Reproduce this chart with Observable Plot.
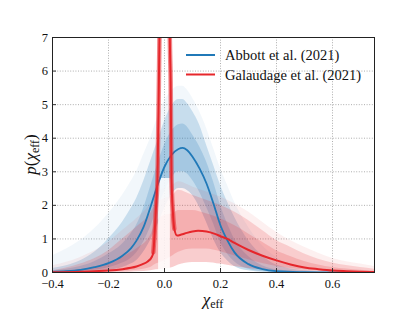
<!DOCTYPE html>
<html><head><meta charset="utf-8">
<script src="https://cdn.jsdelivr.net/npm/d3@7"></script>
<script src="https://cdn.jsdelivr.net/npm/@observablehq/plot@0.6"></script>
<style>
body{margin:0;background:#fff}
#wrap{width:415px;height:312px}
</style>
</head><body><div id="wrap"></div>
<script>
// ---- data ----
const xTicks = [-0.4, -0.2, 0.0, 0.2, 0.4, 0.6];
const yTicks = [0, 1, 2, 3, 4, 5, 6, 7];
const seriesNames = ["Abbott et al. (2021)", "Galaudage et al. (2021)"];
const seriesColors = ["#2079b8", "#e6262b"];

// Abbott et al. (2021): median curve and sample spread
const blueX      = [-0.4,-0.35,-0.3,-0.25,-0.2,-0.15,-0.12,-0.1,-0.075,-0.05,-0.025,0,0.025,0.05,0.065,0.08,0.1,0.125,0.15,0.175,0.2,0.225,0.25,0.3,0.35,0.4,0.5,0.6,0.75];
const blueMean   = [0.02,0.04,0.08,0.16,0.28,0.5,0.72,0.95,1.35,1.95,2.6,3.15,3.5,3.68,3.71,3.65,3.45,3.1,2.65,2.05,1.4,0.95,0.6,0.25,0.1,0.04,0.01,0.0,0.0];
const blueCoreLo = [0,0.01,0.03,0.07,0.14,0.28,0.42,0.58,0.9,1.35,1.9,2.4,2.8,3.0,3.0,2.95,2.75,2.4,1.95,1.45,0.9,0.55,0.32,0.1,0.03,0.01,0,0,0];
const blueCoreHi = [0.05,0.1,0.18,0.32,0.55,0.85,1.15,1.4,1.9,2.55,3.2,3.8,4.2,4.4,4.42,4.35,4.1,3.75,3.3,2.7,2.0,1.45,1.0,0.48,0.2,0.08,0.02,0,0];
const blueLo     = [0,0,0.01,0.03,0.06,0.15,0.25,0.35,0.6,0.95,1.4,1.9,2.3,2.5,2.5,2.45,2.3,1.95,1.5,1.0,0.6,0.35,0.18,0.05,0.01,0,0,0,0];
const blueHi     = [0.12,0.2,0.35,0.6,1.0,1.5,1.9,2.2,2.7,3.3,3.9,4.5,4.95,5.15,5.15,5.05,4.8,4.4,3.8,3.2,2.6,2.1,1.65,0.95,0.5,0.22,0.05,0.01,0];
const blueHiFaint= [0.5,0.7,0.95,1.3,1.75,2.3,2.7,3.0,3.5,4.0,4.6,5.1,5.4,5.55,5.55,5.45,5.2,4.8,4.3,3.7,3.1,2.6,2.1,1.35,0.8,0.45,0.15,0.05,0.01];

// Galaudage et al. (2021): median curve (with narrow spike at zero)
const redX    = [-0.4,-0.3,-0.25,-0.2,-0.15,-0.12,-0.1,-0.08,-0.06,-0.045,-0.04,-0.035,-0.03,-0.025,-0.02,-0.015,0,0.015,0.02,0.022,0.025,0.03,0.035,0.045,0.06,0.08,0.1,0.12,0.15,0.18,0.2,0.225,0.25,0.3,0.35,0.4,0.45,0.5,0.55,0.6,0.65,0.7,0.75];
const redMean = [0.005,0.02,0.04,0.06,0.1,0.14,0.18,0.24,0.33,0.47,0.6,1.2,2.0,2.8,5.7,9,15,9,6.5,5.7,2.8,1.8,1.3,1.1,1.13,1.18,1.22,1.24,1.22,1.15,1.08,1.0,0.88,0.67,0.5,0.36,0.24,0.15,0.1,0.06,0.04,0.025,0.015];
// Galaudage et al. (2021): sample spread
const redBandX   = [-0.4,-0.3,-0.2,-0.15,-0.1,-0.05,-0.03,0,0.03,0.05,0.1,0.15,0.2,0.25,0.3,0.35,0.4,0.45,0.5,0.6,0.7,0.75];
const redCoreLo  = [0,0.005,0.02,0.04,0.07,0.15,0.25,0.35,0.5,0.6,0.7,0.7,0.62,0.5,0.38,0.27,0.18,0.12,0.08,0.03,0.01,0.005];
const redCoreHi  = [0.02,0.08,0.25,0.45,0.7,1.1,1.5,1.7,1.75,1.85,1.85,1.75,1.6,1.4,1.15,0.9,0.65,0.48,0.33,0.15,0.07,0.04];
const redLo      = [0,0,0,0,0.02,0.05,0.08,0.1,0.15,0.22,0.3,0.3,0.25,0.18,0.12,0.08,0.05,0.03,0.02,0.01,0,0];
const redHi      = [0.05,0.25,0.65,1.0,1.35,1.75,2.05,2.2,2.3,2.45,2.3,2.15,2.0,1.8,1.55,1.25,0.95,0.75,0.55,0.28,0.15,0.1];
const redHiFaint = [0.2,0.45,0.9,1.25,1.6,2.05,2.35,2.5,2.6,2.7,2.55,2.4,2.25,2.05,1.8,1.5,1.2,0.95,0.75,0.42,0.25,0.18];
// empty gap inside the spike
const gapX  = [-0.021, 0.021];
const gapLo = [0, 0];
const gapHi = [2.8, 2.8];

// ---- tables ----
const blueRows = blueX.map((x,i)=>({x, mean:blueMean[i], lo:blueLo[i], hi:blueHi[i], hiF:blueHiFaint[i], cLo:blueCoreLo[i], cHi:blueCoreHi[i]}));
const redRows = redX.map((x,i)=>({x, mean:redMean[i]}));
const redBand = redBandX.map((x,i)=>({x, lo:redLo[i], hi:redHi[i], hiF:redHiFaint[i], cLo:redCoreLo[i], cHi:redCoreHi[i]}));
const gapRows = gapX.map((x,i)=>({x, lo:gapLo[i], hi:gapHi[i]}));
const spikeRows = redRows.filter(d => d.x >= -0.04 && d.x <= 0.04);

const [BLUE, RED] = seriesColors;
const FONT = "Liberation Serif";
const fmt = d => d.toFixed(1).replace("-", "\u2212");

const plot = Plot.plot({
  width: 415, height: 312,
  marginLeft: 52, marginRight: 41, marginTop: 37, marginBottom: 40,
  style: {fontFamily: FONT, fontSize: "12.5px", background: "white", color: "#111"},
  x: {domain: [-0.4, 0.75]},
  y: {domain: [0, 7]},
  marks: [
    Plot.gridX(xTicks, {stroke: "#999", strokeOpacity: 1, strokeWidth: 0.8, strokeDasharray: "1,1.6"}),
    Plot.gridY(yTicks, {stroke: "#999", strokeOpacity: 1, strokeWidth: 0.8, strokeDasharray: "1,1.6"}),
    Plot.areaY(blueRows, {x: "x", y1: "lo", y2: "hiF", fill: BLUE, fillOpacity: 0.06, curve: "monotone-x", clip: true}),
    Plot.areaY(blueRows, {x: "x", y1: "lo", y2: "hi", fill: BLUE, fillOpacity: 0.2, curve: "monotone-x", clip: true}),
    Plot.areaY(blueRows, {x: "x", y1: "cLo", y2: "cHi", fill: BLUE, fillOpacity: 0.2, curve: "monotone-x", clip: true}),
    Plot.areaY(redBand, {x: "x", y1: "lo", y2: "hiF", fill: RED, fillOpacity: 0.07, curve: "monotone-x", clip: true}),
    Plot.areaY(redBand, {x: "x", y1: "lo", y2: "hi", fill: RED, fillOpacity: 0.17, curve: "monotone-x", clip: true}),
    Plot.areaY(redBand, {x: "x", y1: "cLo", y2: "cHi", fill: RED, fillOpacity: 0.18, curve: "monotone-x", clip: true}),
    Plot.areaY(gapRows, {x: "x", y1: "lo", y2: "hi", fill: "white", fillOpacity: 0.85, clip: true}),
    Plot.line(blueRows, {x: "x", y: "mean", stroke: BLUE, strokeWidth: 1.8, curve: "monotone-x", clip: true}),
    Plot.line(spikeRows, {x: "x", y: "mean", stroke: RED, strokeWidth: 4.5, strokeOpacity: 0.55, curve: "monotone-x", clip: true}),
    Plot.line(redRows, {x: "x", y: "mean", stroke: RED, strokeWidth: 2, curve: "monotone-x", clip: true}),
    Plot.axisX({ticks: xTicks, tickFormat: fmt, tickSize: -4, tickPadding: 11, label: null, stroke: "#333", fontSize: 12.5, fill: "#111"}),
    Plot.axisY({ticks: yTicks, tickFormat: d => String(d), tickSize: -4, tickPadding: 8.5, label: null, stroke: "#333", fontSize: 12.5, fill: "#111"}),
    Plot.frame({stroke: "#222", strokeWidth: 1})
  ]
});
document.getElementById("wrap").appendChild(plot);

// ---- labels and legend ----
const svg = d3.select(plot);
const X = plot.scale("x"), Y = plot.scale("y");
const cx = (X.range[0] + X.range[1]) / 2;
const cy = (Y.range[0] + Y.range[1]) / 2;

const xl = svg.append("text").attr("x", cx).attr("y", 305).attr("text-anchor", "middle")
  .attr("font-family", FONT).attr("font-size", 17).attr("fill", "#111");
xl.append("tspan").attr("font-style", "italic").text("\u03c7");
xl.append("tspan").attr("dy", 3).attr("font-size", 12).text("eff");

const yl = svg.append("text").attr("transform", `translate(36,${cy}) rotate(-90)`).attr("text-anchor", "middle")
  .attr("font-family", FONT).attr("font-size", 17).attr("fill", "#111");
yl.append("tspan").attr("font-style", "italic").text("p");
yl.append("tspan").text("(");
yl.append("tspan").attr("font-style", "italic").text("\u03c7");
yl.append("tspan").attr("dy", 3).attr("font-size", 12).text("eff");
yl.append("tspan").attr("dy", -3).text(")");

const lg = svg.append("g").attr("font-family", FONT).attr("font-size", 14.5);
seriesNames.forEach((name, i) => {
  const y = 55 + i * 19.5;
  lg.append("line").attr("x1", 186).attr("x2", 215).attr("y1", y).attr("y2", y)
    .attr("stroke", seriesColors[i]).attr("stroke-width", 2);
  lg.append("text").attr("x", 225).attr("y", y).attr("dy", "0.35em").attr("text-anchor", "start")
    .attr("fill", "#111").text(name);
});
</script>
</body></html>
